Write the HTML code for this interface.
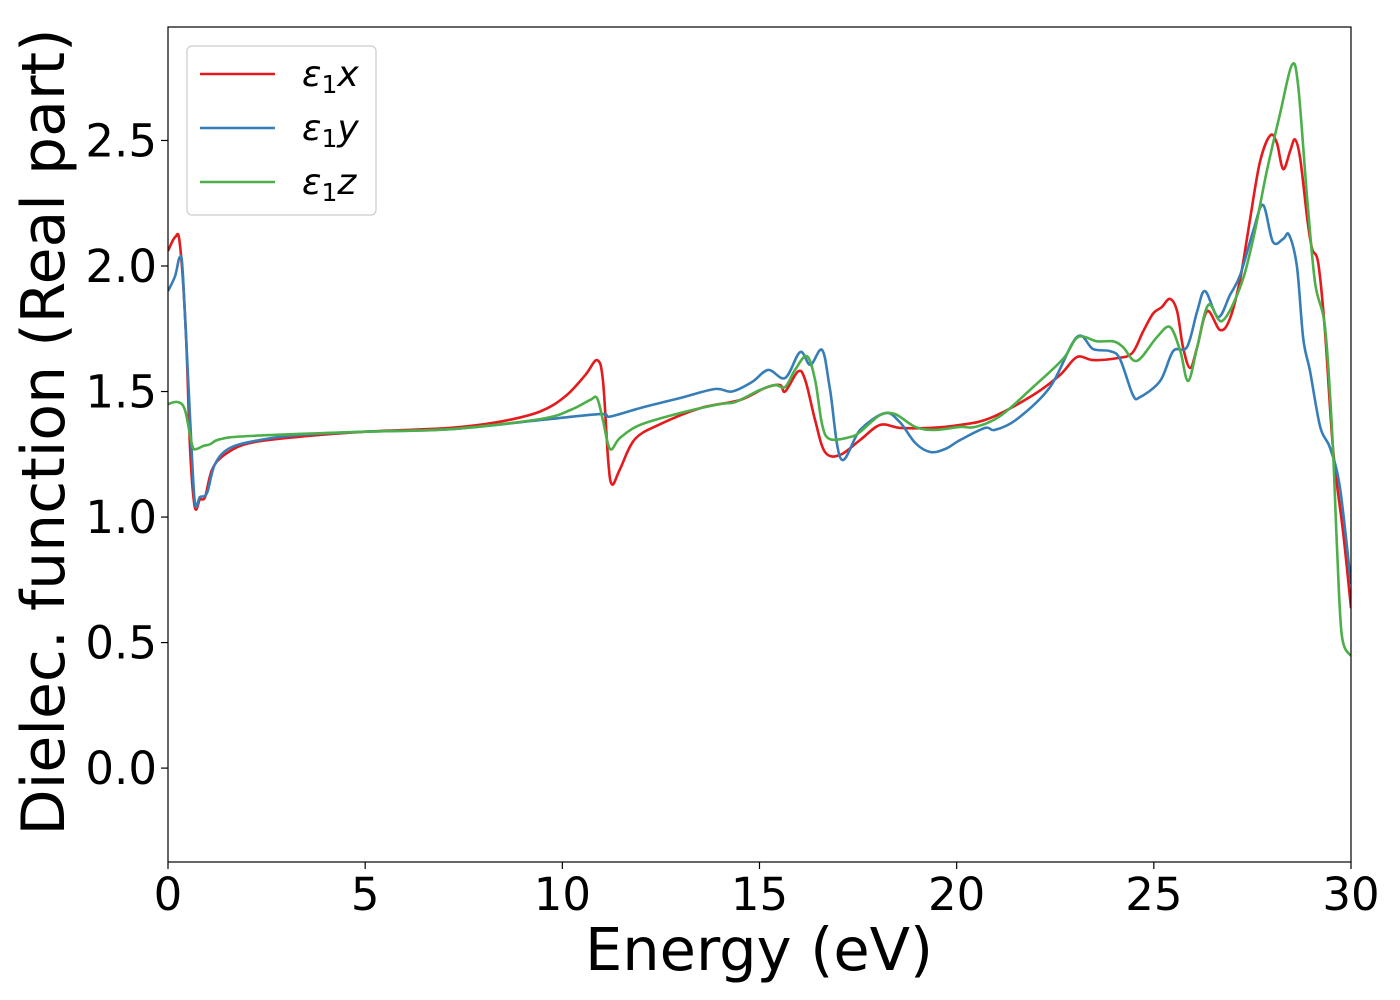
<!DOCTYPE html>
<html><head><meta charset="utf-8"><style>
body{margin:0;background:#fff;}
svg{display:block;font-family:"DejaVu Sans","Liberation Sans",sans-serif;}
</style></head><body>
<svg id="chart" width="1400" height="1000" xmlns="http://www.w3.org/2000/svg">
<rect width="1400" height="1000" fill="#fff"/>
<g id="series"></g>
<rect x="168" y="27" width="1183" height="835" fill="none" stroke="#000" stroke-width="1.2"/>
<g id="xticks"></g>
<g id="yticks"></g>
<text x="759" y="970" font-size="59" text-anchor="middle">Energy (eV)</text>
<text transform="translate(64,432) rotate(-90)" font-size="60" text-anchor="middle">Dielec. function (Real part)</text>
<g>
<rect x="187" y="46" width="189" height="169" rx="5" fill="#fff" stroke="#ccc" stroke-width="1.2"/>
<line x1="200" y1="74" x2="275" y2="74" stroke="#e41a1c" stroke-width="2.5"/>
<text x="302" y="86" font-size="36" font-style="italic">ε<tspan font-style="normal" font-size="25" dy="7">1</tspan><tspan dy="-7">x</tspan></text>
<line x1="200" y1="128" x2="275" y2="128" stroke="#377eb8" stroke-width="2.5"/>
<text x="302" y="140" font-size="36" font-style="italic">ε<tspan font-style="normal" font-size="25" dy="7">1</tspan><tspan dy="-7">y</tspan></text>
<line x1="200" y1="182" x2="275" y2="182" stroke="#4daf4a" stroke-width="2.5"/>
<text x="302" y="194" font-size="36" font-style="italic">ε<tspan font-style="normal" font-size="25" dy="7">1</tspan><tspan dy="-7">z</tspan></text>
</g>
</svg>
<script>
const xTicks=[0,5,10,15,20,25,30];
const yTicks=[0.0,0.5,1.0,1.5,2.0,2.5];
const yTickLabels=["0.0","0.5","1.0","1.5","2.0","2.5"];
const redE=[0,0.18,0.3,0.45,0.56,0.68,0.81,0.94,1.12,1.45,2.08,3.35,5,7.15,8.42,9.43,10.07,10.58,10.88,11.03,11.16,11.26,11.46,11.84,12.48,13.5,14.5,15.14,15.52,15.65,15.98,16.16,16.41,16.66,17.04,17.55,18.06,18.56,19.33,20.09,20.85,21.94,22.62,23.05,23.46,24.07,24.45,24.73,24.98,25.2,25.41,25.59,25.74,25.92,26.1,26.35,26.68,26.93,27.19,27.44,27.69,27.95,28.12,28.28,28.46,28.58,28.71,28.89,29.01,29.17,29.34,29.55,29.8,30];
const redV=[2.06,2.115,2.09,1.75,1.27,1.04,1.07,1.08,1.19,1.25,1.295,1.32,1.34,1.355,1.38,1.42,1.48,1.565,1.625,1.545,1.23,1.13,1.19,1.31,1.37,1.434,1.466,1.514,1.526,1.50,1.58,1.546,1.386,1.259,1.247,1.307,1.367,1.355,1.355,1.367,1.394,1.486,1.566,1.637,1.625,1.633,1.653,1.74,1.81,1.836,1.869,1.82,1.677,1.594,1.677,1.82,1.745,1.79,1.948,2.187,2.414,2.52,2.49,2.386,2.46,2.504,2.43,2.19,2.07,2.01,1.74,1.26,0.94,0.637];
const blueE=[0,0.18,0.3,0.38,0.56,0.68,0.81,0.99,1.19,1.57,2.33,3.35,5,7.15,9.43,10.96,11.2,11.97,12.98,13.87,14.3,14.81,15.22,15.65,16.03,16.29,16.59,16.79,17.07,17.55,18.18,18.56,18.95,19.33,19.71,20.09,20.72,20.97,21.53,22.37,23.05,23.46,23.89,24.14,24.47,24.65,25.16,25.49,25.84,26.1,26.3,26.63,26.93,27.19,27.52,27.77,28.02,28.28,28.43,28.63,28.79,28.96,29.22,29.47,29.72,30];
const blueV=[1.90,1.96,2.035,1.96,1.39,1.06,1.08,1.096,1.21,1.275,1.307,1.327,1.34,1.35,1.386,1.41,1.40,1.434,1.474,1.51,1.50,1.538,1.586,1.554,1.657,1.606,1.665,1.506,1.231,1.347,1.414,1.378,1.295,1.259,1.271,1.307,1.355,1.347,1.39,1.518,1.717,1.669,1.661,1.63,1.486,1.478,1.542,1.661,1.677,1.82,1.90,1.797,1.884,1.964,2.14,2.243,2.096,2.108,2.124,1.996,1.709,1.582,1.359,1.275,1.116,0.733];
const greenE=[0,0.25,0.43,0.61,0.71,0.89,1.07,1.32,2.08,5,7.15,9.43,10.2,10.7,10.88,11.03,11.21,11.46,11.97,12.98,13.99,14.38,15.01,15.39,15.65,15.9,16.2,16.41,16.59,16.79,17.3,17.55,18.06,18.44,18.95,19.45,20.09,20.47,21.1,21.94,22.7,23.08,23.56,23.97,24.22,24.57,25.08,25.41,25.67,25.87,26.1,26.38,26.73,27.19,27.52,27.87,28.2,28.5,28.66,28.89,29.09,29.34,29.52,29.65,29.77,30];
const greenV=[1.45,1.458,1.426,1.287,1.271,1.283,1.29,1.31,1.323,1.34,1.35,1.39,1.426,1.466,1.474,1.386,1.271,1.315,1.367,1.414,1.45,1.458,1.506,1.526,1.518,1.586,1.641,1.546,1.367,1.31,1.319,1.339,1.406,1.41,1.359,1.347,1.359,1.359,1.402,1.518,1.63,1.717,1.70,1.70,1.677,1.622,1.717,1.757,1.661,1.542,1.677,1.845,1.781,1.916,2.108,2.382,2.606,2.80,2.717,2.267,1.932,1.757,1.343,0.861,0.526,0.446];

const L=168,R=1351,T=27,B=862,xMin=0,xMax=30,yMin=-0.374,yMax=2.952;
const sx=e=>L+(e-xMin)/(xMax-xMin)*(R-L);
const sy=v=>B-(v-yMin)/(yMax-yMin)*(B-T);
const NS='http://www.w3.org/2000/svg';
function pathFor(E,V){
  const p=E.map((e,i)=>[sx(e),sy(V[i])]);
  let d='M'+p[0][0].toFixed(1)+','+p[0][1].toFixed(1);
  for(let i=0;i<p.length-1;i++){
    const p0=p[Math.max(0,i-1)],p1=p[i],p2=p[i+1],p3=p[Math.min(p.length-1,i+2)];
    const c1x=p1[0]+(p2[0]-p0[0])/6,c1y=p1[1]+(p2[1]-p0[1])/6;
    const c2x=p2[0]-(p3[0]-p1[0])/6,c2y=p2[1]-(p3[1]-p1[1])/6;
    d+=' C'+c1x.toFixed(1)+','+c1y.toFixed(1)+' '+c2x.toFixed(1)+','+c2y.toFixed(1)+' '+p2[0].toFixed(1)+','+p2[1].toFixed(1);
  }
  return d;
}
const sg=document.getElementById('series');
const clip=document.createElementNS(NS,'clipPath');clip.id='cp';
const cr=document.createElementNS(NS,'rect');cr.setAttribute('x',L);cr.setAttribute('y',T);cr.setAttribute('width',R-L);cr.setAttribute('height',B-T);
clip.appendChild(cr);sg.appendChild(clip);
[[redE,redV,'#e41a1c','line-eps1x'],[blueE,blueV,'#377eb8','line-eps1y'],[greenE,greenV,'#4daf4a','line-eps1z']].forEach(s=>{
  const el=document.createElementNS(NS,'path');
  el.setAttribute('d',pathFor(s[0],s[1]));
  el.setAttribute('fill','none');el.setAttribute('stroke',s[2]);el.setAttribute('stroke-width','2.6');
  el.setAttribute('clip-path','url(#cp)');
  
  
  sg.appendChild(el);
});
const xg=document.getElementById('xticks');
xTicks.forEach(t=>{
  const ln=document.createElementNS(NS,'line');
  ln.setAttribute('x1',sx(t));ln.setAttribute('x2',sx(t));ln.setAttribute('y1',B);ln.setAttribute('y2',B+7);ln.setAttribute('stroke','#000');ln.setAttribute('stroke-width','1.2');
  
  
  xg.appendChild(ln);
  const tx=document.createElementNS(NS,'text');
  tx.setAttribute('x',sx(t));tx.setAttribute('y',910);tx.setAttribute('font-size','45');tx.setAttribute('text-anchor','middle');
  tx.textContent=String(t);
  
  
  xg.appendChild(tx);
});
const yg=document.getElementById('yticks');
yTicks.forEach((t,i)=>{
  const ln=document.createElementNS(NS,'line');
  ln.setAttribute('x1',L-7);ln.setAttribute('x2',L);ln.setAttribute('y1',sy(t));ln.setAttribute('y2',sy(t));ln.setAttribute('stroke','#000');ln.setAttribute('stroke-width','1.2');
  
  
  yg.appendChild(ln);
  const tx=document.createElementNS(NS,'text');
  tx.setAttribute('x',157);tx.setAttribute('y',sy(t)+16);tx.setAttribute('font-size','45');tx.setAttribute('text-anchor','end');
  tx.textContent=yTickLabels[i];
  
  
  yg.appendChild(tx);
});
</script>
</body></html>
